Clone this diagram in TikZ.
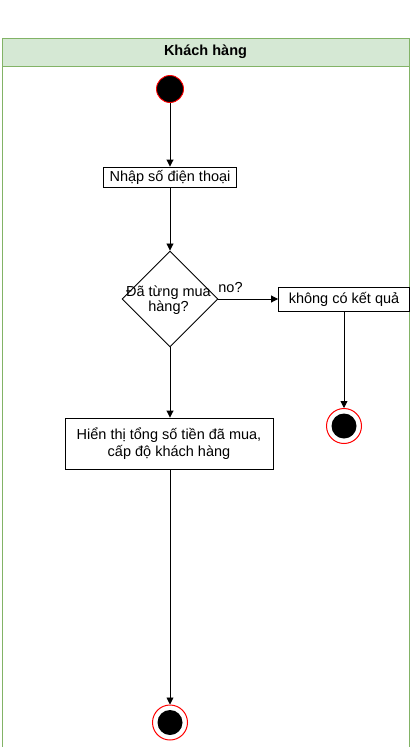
\documentclass[tikz,border=0pt]{standalone}
\usepackage{fontspec}
\setmainfont{Liberation Sans}
\usetikzlibrary{shapes.geometric,arrows.meta}
\definecolor{lanefill}{HTML}{D5E8D4}
\definecolor{lanedraw}{HTML}{82B366}
\definecolor{endred}{HTML}{FF0000}
\tikzset{
  actbox/.style={draw=black,line width=0.9pt,fill=white,rectangle,inner sep=0pt,align=center,font=\fontsize{14.5}{17}\selectfont},
  decis/.style={draw=black,line width=0.9pt,fill=white,diamond,minimum width=96pt,minimum height=96pt,inner sep=0pt},
  flow/.style={draw=black,line width=0.9pt,-{Triangle[length=7pt,width=7pt]}},
  startnode/.style={circle,fill=black,draw=endred,line width=0.9pt,minimum size=27pt,inner sep=0pt},
  endouter/.style={circle,fill=white,draw=endred,line width=1pt,minimum size=35pt,inner sep=0pt},
  endinner/.style={circle,fill=black,minimum size=25pt,inner sep=0pt},
  txt/.style={font=\fontsize{14.5}{15.5}\selectfont,inner sep=0pt}
}
\begin{document}
\begin{tikzpicture}[x=1pt,y=-1pt]
\useasboundingbox (0,0) rectangle (410,747);
\fill[white] (0,0) rectangle (410,747);
% swimlane
\draw[lanedraw,line width=0.9pt] (2,38) rectangle (409,760);
\draw[lanedraw,fill=lanefill,line width=0.9pt] (2,38) rectangle (409,66);
\node[txt,font=\fontsize{14.5}{15.5}\selectfont\bfseries] (lane) at (205.5,52) {Khách hàng};
% nodes
\node[startnode] (start) at (170,89) {};
\node[actbox,minimum width=133pt,minimum height=20pt] (phone) at (170,177) {Nhập số điện thoại};
\node[decis] (dec) at (170,299) {};
\node[txt,align=center] (dectext) at (168.5,300) {Đã từng mua\\hàng?};
\node[actbox,minimum width=131pt,minimum height=24pt] (none) at (344,299) {không có kết quả};
\node[endouter] (end1) at (344,426) {};
\node[endinner] (end1in) at (344,426) {};
\node[actbox,minimum width=208pt,minimum height=51pt] (show) at (169,443.5) {Hiển thị tổng số tiền đã mua,\\cấp độ khách hàng};
\node[endouter] (end2) at (170,722.5) {};
\node[endinner] (end2in) at (170,722.5) {};
% connectors
\draw[flow] (start) -- (phone);
\draw[flow] (phone) -- (dec);
\draw[flow] (dec.east) -- (none.west);
\node[txt] (nolabel) at (230.5,288) {no?};
\draw[flow] (none) -- (end1);
\draw[flow] (dec.south) -- (show.north -| dec.south);
\draw[flow] (show.south -| end2) -- (end2);
\end{tikzpicture}
\end{document}
